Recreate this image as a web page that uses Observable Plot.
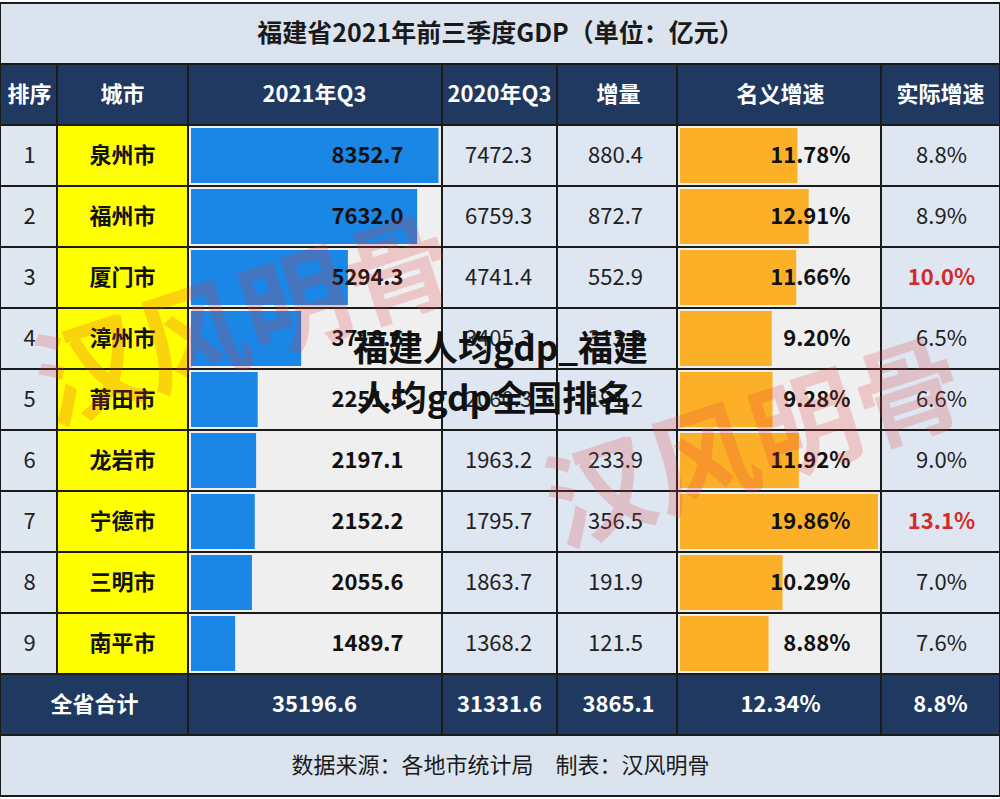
<!DOCTYPE html>
<html>
<head>
<meta charset="utf-8">
<script src="https://cdn.jsdelivr.net/npm/d3@7"></script>
<script src="https://cdn.jsdelivr.net/npm/@observablehq/plot@0.6"></script>
<style>
  html, body { margin: 0; padding: 0; background: #fff; }
  #chart svg { display: block; }
</style>
</head>
<body>
<div id="chart"></div>
<script>
// ---------- data ----------
const titleText = "福建省2021年前三季度GDP（单位：亿元）";
const headers = ["排序", "城市", "2021年Q3", "2020年Q3", "增量", "名义增速", "实际增速"];
const ranks = [1, 2, 3, 4, 5, 6, 7, 8, 9];
const cities = ["泉州市", "福州市", "厦门市", "漳州市", "莆田市", "龙岩市", "宁德市", "三明市", "南平市"];
const gdp2021 = [8352.7, 7632.0, 5294.3, 3718.6, 2251.5, 2197.1, 2152.2, 2055.6, 1489.7];
const gdp2020 = [7472.3, 6759.3, 4741.4, 3405.3, 2060.3, 1963.2, 1795.7, 1863.7, 1368.2];
const increase = [880.4, 872.7, 552.9, 313.3, 191.2, 233.9, 356.5, 191.9, 121.5];
const nominalGrowth = [11.78, 12.91, 11.66, 9.20, 9.28, 11.92, 19.86, 10.29, 8.88];
const realGrowth = [8.8, 8.9, 10.0, 6.5, 6.6, 9.0, 13.1, 7.0, 7.6];
const totalRow = ["全省合计", "35196.6", "31331.6", "3865.1", "12.34%", "8.8%"];
const footerText = "数据来源：各地市统计局　制表：汉风明骨";
const watermarkText = "汉风明骨";
const overlayLines = ["福建人均gdp_福建", "人均gdp全国排名"];

// ---------- layout ----------
const W = 1000, H = 799;
const colEdges = [0, 57, 188, 442, 557, 677, 881, 1000];
const rowKeys = ["title", "header", ...ranks.map(String), "total", "footer"];
const colFills = ["#dfe7f1", "#ffff00", "#efefef", "#dde6f1", "#dde6f1", "#efefef", "#dde6f1"];
const navy = "#1f3961";
const lightBand = "#dbe4ee";
const lineColor = "#1b1b1b";
const font = "'Noto Sans CJK SC', 'Noto Sans', sans-serif";

const rows = ranks.map((r, i) => ({
  row: String(r), rank: r, city: cities[i], gdp: gdp2021[i], prev: gdp2020[i],
  inc: increase[i], nom: nominalGrowth[i], real: realGrowth[i]
}));

// cell backgrounds
const cells = [];
cells.push({row: "title", x1: 0, x2: W, fill: lightBand});
cells.push({row: "footer", x1: 0, x2: W, fill: lightBand});
headers.forEach((h, c) => cells.push({row: "header", x1: colEdges[c], x2: colEdges[c + 1], fill: navy}));
rows.forEach(d => colFills.forEach((f, c) => cells.push({row: d.row, x1: colEdges[c], x2: colEdges[c + 1], fill: f})));
const totalEdges = [0, ...colEdges.slice(2)];
totalRow.forEach((t, c) => cells.push({row: "total", x1: totalEdges[c], x2: totalEdges[c + 1], fill: navy}));

const gx = d3.scaleLinear([0, d3.max(gdp2021)], [colEdges[2] + 3, colEdges[3] - 3.5]);
const nx = d3.scaleLinear([0, d3.max(nominalGrowth)], [colEdges[5] + 3, colEdges[6] - 3]);

const headerCenters = [29, 122, 314, 499, 618, 780, 940];
const totalCenters = [94, 314, 499, 618, 780, 940];
const headerData = headers.map((h, i) => ({row: "header", text: h, x: headerCenters[i]}));
const totalData = totalRow.map((t, i) => ({row: "total", text: t, x: totalCenters[i]}));

const chart = Plot.plot({
  width: W,
  height: H,
  margin: 0,
  x: {domain: [0, W], range: [0, W], axis: null},
  y: {type: "band", domain: rowKeys, range: [0, H], padding: 0, axis: null},
  color: {type: "identity"},
  style: {fontFamily: font, background: "#fff", overflow: "visible"},
  marks: [
    // cell backgrounds with borders
    Plot.barX(cells, {x1: "x1", x2: "x2", y: "row", fill: "fill", stroke: lineColor, strokeWidth: 2, inset: 0}),
    // blue GDP bars
    Plot.barX(rows, {x1: () => gx(0), x2: d => gx(d.gdp), y: "row", fill: "#1a86e6", insetTop: 3, insetBottom: 3}),
    // orange growth bars
    Plot.barX(rows, {x1: () => nx(0), x2: d => nx(d.nom), y: "row", fill: "#fcb027", insetTop: 3, insetBottom: 3}),
    // title & footer
    Plot.text([titleText], {x: () => 500, y: () => "title", text: d => d, fontSize: 25, fontWeight: "bold", fill: "#1a1a1a"}),
    Plot.text([footerText], {x: () => 500, y: () => "footer", text: d => d, fontSize: 22, fill: "#1a1a1a"}),
    // header
    Plot.text(headerData, {x: "x", y: "row", text: "text", fontSize: 22, fontWeight: "bold", fill: "#fff"}),
    // body
    Plot.text(rows, {x: () => 29, y: "row", text: d => String(d.rank), fontSize: 22, fill: "#222"}),
    Plot.text(rows, {x: () => 122, y: "row", text: "city", fontSize: 22, fontWeight: "bold", fill: "#111"}),
    Plot.text(rows, {x: () => 403, y: "row", text: d => d.gdp.toFixed(1), fontSize: 22, fontWeight: "bold", fill: "#111", textAnchor: "end"}),
    Plot.text(rows, {x: () => 498, y: "row", text: d => d.prev.toFixed(1), fontSize: 22, fill: "#222"}),
    Plot.text(rows, {x: () => 615, y: "row", text: d => d.inc.toFixed(1), fontSize: 22, fill: "#222"}),
    Plot.text(rows, {x: () => 850, y: "row", text: d => d.nom.toFixed(2) + "%", fontSize: 22, fontWeight: "bold", fill: "#111", textAnchor: "end"}),
    Plot.text(rows.filter(d => d.real < 10), {x: () => 941, y: "row", text: d => d.real.toFixed(1) + "%", fontSize: 22, fill: "#222"}),
    Plot.text(rows.filter(d => d.real >= 10), {x: () => 941, y: "row", text: d => d.real.toFixed(1) + "%", fontSize: 22, fontWeight: "bold", fill: "#d42a2a"}),
    // total row
    Plot.text(totalData, {x: "x", y: "row", text: "text", fontSize: 22, fontWeight: "bold", fill: "#fff"}),
    // watermarks
    Plot.text([{x: 245, row: "4"}, {x: 755, row: "6"}], {
      x: "x", y: "row", dy: -14, text: () => watermarkText, fontSize: 108, fontWeight: "bold",
      rotate: -18, fill: "#e23a3a", fillOpacity: 0.22
    }),
    // overlay caption text
    Plot.text([{row: "4", t: overlayLines[0]}], {x: () => 500, y: "row", dy: 11, text: "t", fontSize: 35, fontWeight: "bold", fill: "#111"}),
    Plot.text([{row: "5", t: overlayLines[1]}], {x: () => 494, y: "row", dy: 0, text: "t", fontSize: 35, fontWeight: "bold", fill: "#111"})
  ]
});
document.getElementById("chart").appendChild(chart);
</script>
</body>
</html>
